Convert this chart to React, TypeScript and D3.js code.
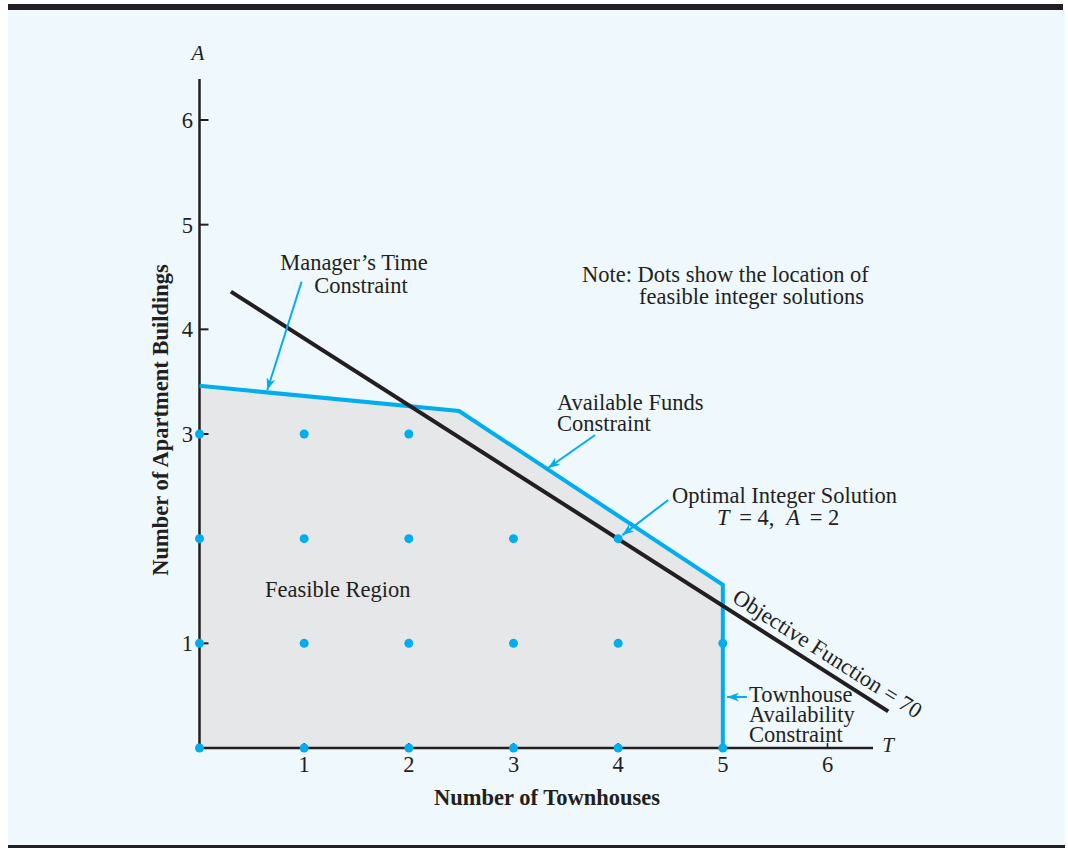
import React from "react";
import * as d3 from "d3";

// ---- data ----
const xTicks = [1, 2, 3, 4, 5, 6];
const yTicks = [1, 3, 4, 5, 6];

// feasible region boundary (T, A)
const regionT = [0, 0, 2.48, 5, 5];
const regionA = [0, 3.46, 3.22, 1.56, 0];

// constraint boundary drawn in blue
const constraintT = [0, 2.48, 5, 5];
const constraintA = [3.46, 3.22, 1.56, 0];

// objective function = 70 line endpoints
const objT = [0.3, 6.58];
const objA = [4.36, 0.35];

// feasible integer solutions
const dotT = [0, 1, 2, 3, 4, 5, 0, 1, 2, 3, 4, 5, 0, 1, 2, 3, 4, 0, 1, 2];
const dotA = [0, 0, 0, 0, 0, 0, 1, 1, 1, 1, 1, 1, 2, 2, 2, 2, 2, 3, 3, 3];

// annotation arrows (from T,A -> to T,A)
const arrowFromT = [0.975, 3.78, 4.478, 5.23];
const arrowFromA = [4.455, 2.99, 2.369, 0.487];
const arrowToT = [0.648, 3.33, 4.04, 5.04];
const arrowToA = [3.42, 2.675, 2.034, 0.487];

const BLUE = "#00aeef";
const INK = "#231f20";
const FILL = "#e6e7e8";
const BG = "#eff8fd";
const FONT = "'Liberation Serif', 'Times New Roman', serif";

export default function App() {
  const W = 1068;
  const H = 848;
  const x = d3.scaleLinear().domain([0, 6]).range([199.5, 827.5]);
  const y = d3.scaleLinear().domain([0, 6]).range([748, 120]);

  const line = d3
    .line<[number, number]>()
    .x((d) => x(d[0]))
    .y((d) => y(d[1]));

  const regionPts = regionT.map((t, i) => [t, regionA[i]] as [number, number]);
  const constraintPts = constraintT.map((t, i) => [t, constraintA[i]] as [number, number]);
  const objPts = objT.map((t, i) => [t, objA[i]] as [number, number]);

  const ox0 = x(objT[0]);
  const oy0 = y(objA[0]);
  const ox1 = x(objT[1]);
  const oy1 = y(objA[1]);
  const ang = (Math.atan2(oy1 - oy0, ox1 - ox0) * 180) / Math.PI;

  const fs = 22.5;

  return (
    <svg
      width={W}
      height={H}
      style={{ position: "absolute", left: 0, top: 0 }}
      fontFamily={FONT}
    >
      <defs>
        <marker
          id="ah"
          markerUnits="userSpaceOnUse"
          markerWidth={13}
          markerHeight={9}
          refX={12}
          refY={4.5}
          orient="auto"
        >
          <path d="M0,0 L12,4.5 L0,9 L3.5,4.5 Z" fill={BLUE} />
        </marker>
      </defs>
      <rect x={0} y={0} width={W} height={H} fill="#ffffff" />
      <rect x={8} y={10} width={1057} height={836} fill={BG} />
      <rect x={8} y={4} width={1055} height={6} fill={INK} />
      <rect x={8} y={845} width={1057} height={3} fill={INK} />

      {/* feasible region */}
      <path d={line(regionPts) + "Z"} fill={FILL} />

      {/* axes */}
      <line x1={x(0)} x2={x(0)} y1={79} y2={y(0) + 1} stroke={INK} strokeWidth={2.5} />
      <line x1={x(0) - 1} x2={873} y1={y(0)} y2={y(0)} stroke={INK} strokeWidth={2.5} />
      {yTicks.map((t) => (
        <g key={"yt" + t}>
          <line x1={x(0)} x2={x(0) + 9} y1={y(t)} y2={y(t)} stroke={INK} strokeWidth={2} />
          <text x={193} y={y(t) + 8} textAnchor="end" fontSize={fs} fill={INK}>
            {t}
          </text>
        </g>
      ))}
      {xTicks.map((t) => (
        <g key={"xt" + t}>
          <line x1={x(t)} x2={x(t)} y1={y(0)} y2={y(0) - 5} stroke={INK} strokeWidth={1.5} />
          <text x={x(t)} y={772} textAnchor="middle" fontSize={fs} fill={INK}>
            {t}
          </text>
        </g>
      ))}
      <text x={198} y={60} textAnchor="middle" fontSize={21} fontStyle="italic" fill={INK}>
        A
      </text>
      <text x={888} y={752} textAnchor="middle" fontSize={21} fontStyle="italic" fill={INK}>
        T
      </text>

      {/* axis titles */}
      <text x={547} y={805} textAnchor="middle" fontSize={fs} fontWeight="bold" fill={INK}>
        Number of Townhouses
      </text>
      <text
        transform={`translate(168,420) rotate(-90)`}
        textAnchor="middle"
        fontSize={fs}
        fontWeight="bold"
        fill={INK}
      >
        Number of Apartment Buildings
      </text>

      {/* constraint boundary */}
      <path d={line(constraintPts) ?? ""} fill="none" stroke={BLUE} strokeWidth={4} strokeLinejoin="miter" />

      {/* objective line */}
      <path d={line(objPts) ?? ""} fill="none" stroke={INK} strokeWidth={4} />

      {/* integer solutions */}
      {dotT.map((t, i) => (
        <circle key={"d" + i} cx={x(t)} cy={y(dotA[i])} r={4.5} fill={BLUE} />
      ))}

      {/* arrows */}
      {arrowFromT.map((t, i) => (
        <line
          key={"a" + i}
          x1={x(t)}
          y1={y(arrowFromA[i])}
          x2={x(arrowToT[i])}
          y2={y(arrowToA[i])}
          stroke={BLUE}
          strokeWidth={2}
          markerEnd="url(#ah)"
        />
      ))}

      {/* annotations */}
      <g fontSize={fs} fill={INK}>
        <text x={354} y={270} textAnchor="middle">Manager’s Time</text>
        <text x={361} y={293} textAnchor="middle">Constraint</text>
        <text x={582} y={282}>Note: Dots show the location of</text>
        <text x={639} y={304}>feasible integer solutions</text>
        <text x={557} y={410}>Available Funds</text>
        <text x={557} y={431}>Constraint</text>
        <text x={672} y={503}>Optimal Integer Solution</text>
        <text x={717} y={525}>
          <tspan fontStyle="italic">T</tspan>
          <tspan dx={4}> = 4,</tspan>
          <tspan dx={12} fontStyle="italic">A</tspan>
          <tspan dx={4}> = 2</tspan>
        </text>
        <text x={749} y={702}>Townhouse</text>
        <text x={749} y={722}>Availability</text>
        <text x={749} y={742}>Constraint</text>
        <text x={265} y={597}>Feasible Region</text>
        <text transform={`translate(731,601) rotate(${ang})`}>Objective Function = 70</text>
      </g>
    </svg>
  );
}
